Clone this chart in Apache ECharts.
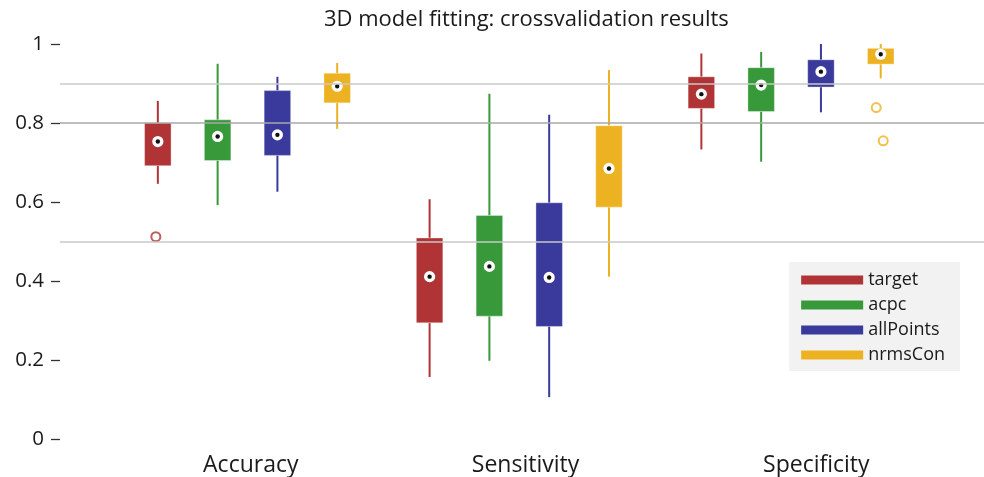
<!DOCTYPE html>
<html>
<head>
<meta charset="utf-8">
<script src="https://cdn.jsdelivr.net/npm/echarts@6/dist/echarts.min.js"></script>
<style>
  html, body { margin: 0; padding: 0; background: #ffffff; }
  #chart { width: 984px; height: 477px; }
</style>
</head>
<body>
<div id="chart"></div>
<script>
// Metric groups shown along the x axis
const categories = ['Accuracy', 'Sensitivity', 'Specificity'];
// Fitting methods, one box per method in every group
const methods = ['target', 'acpc', 'allPoints', 'nrmsCon'];
const methodColors = ['#b03435', '#37993a', '#3a3a9c', '#edb222'];

// Box statistics per group: [lower whisker, Q1, median, Q3, upper whisker]
const target    = [[0.646, 0.692, 0.753, 0.800, 0.856],
                   [0.157, 0.294, 0.411, 0.509, 0.607],
                   [0.733, 0.837, 0.873, 0.917, 0.976]];
const acpc      = [[0.592, 0.705, 0.766, 0.808, 0.950],
                   [0.198, 0.311, 0.437, 0.566, 0.874],
                   [0.702, 0.829, 0.896, 0.940, 0.980]];
const allPoints = [[0.626, 0.718, 0.770, 0.882, 0.917],
                   [0.106, 0.285, 0.409, 0.598, 0.821],
                   [0.827, 0.891, 0.930, 0.960, 1.000]];
const nrmsCon   = [[0.785, 0.851, 0.893, 0.926, 0.952],
                   [0.411, 0.587, 0.685, 0.793, 0.934],
                   [0.913, 0.949, 0.974, 0.989, 1.000]];

// Outliers per method: [group index, value]
const targetOutliers    = [[0, 0.512]];
const acpcOutliers      = [];
const allPointsOutliers = [];
const nrmsConOutliers   = [[2, 0.839], [2, 0.755]];

// Y axis tick values and reference lines
const yTicks = [0, 0.2, 0.4, 0.6, 0.8, 1];
const refLines = [0.9, 0.8, 0.5];

const boxStats = [target, acpc, allPoints, nrmsCon];
const outlierSets = [targetOutliers, acpcOutliers, allPointsOutliers, nrmsConOutliers];

// Layout: groups one unit apart, boxes spread inside a group
const boxStep = 0.22;
const boxHalfWidth = 13.25;
const outlierJitterPx = [[-2], [], [], [-4.5, 2.5]];
const labelPos = [0.342, 1.353, 2.423];

function xPos(g, s) { return g + s * boxStep; }

function renderBox(params, api) {
  const x = api.value(0);
  const pLo = api.coord([x, api.value(1)]);
  const pQ1 = api.coord([x, api.value(2)]);
  const pMed = api.coord([x, api.value(3)]);
  const pQ3 = api.coord([x, api.value(4)]);
  const pHi = api.coord([x, api.value(5)]);
  const cx = pMed[0];
  const color = api.visual('color');
  return {
    type: 'group',
    children: [
      { type: 'line', shape: { x1: cx, y1: pHi[1], x2: cx, y2: pQ3[1] },
        style: { stroke: color, lineWidth: 2 } },
      { type: 'line', shape: { x1: cx, y1: pQ1[1], x2: cx, y2: pLo[1] },
        style: { stroke: color, lineWidth: 2 } },
      { type: 'rect', shape: { x: cx - boxHalfWidth, y: pQ3[1], width: boxHalfWidth * 2, height: pQ1[1] - pQ3[1] },
        style: { fill: color, stroke: 'rgba(255,255,255,0.35)', lineWidth: 1 } },
      { type: 'circle', shape: { cx: cx, cy: pMed[1], r: 5.6 }, style: { fill: '#ffffff' } },
      { type: 'circle', shape: { cx: cx, cy: pMed[1], r: 2.2 }, style: { fill: '#111111' } }
    ]
  };
}

const series = [];

// Reference lines behind the boxes
series.push({
  type: 'line',
  data: [],
  silent: true,
  z: 1,
  markLine: {
    silent: true,
    symbol: 'none',
    label: { show: false },
    data: refLines.map(v => ({
      yAxis: v,
      lineStyle: { color: v === 0.8 ? '#a9a9a9' : '#c8c8c8', width: 1.6, type: 'solid' }
    }))
  }
});

methods.forEach((name, s) => {
  series.push({
    name: name,
    type: 'custom',
    z: 3,
    itemStyle: { color: methodColors[s] },
    encode: { x: 0, y: [1, 2, 3, 4, 5] },
    renderItem: renderBox,
    data: boxStats[s].map((st, g) => [xPos(g, s)].concat(st))
  });
});

methods.forEach((name, s) => {
  series.push({
    name: name,
    type: 'scatter',
    z: 3,
    symbol: 'emptyCircle',
    symbolSize: 9,
    itemStyle: { color: methodColors[s], borderColor: methodColors[s], borderWidth: 1.3 },
    data: outlierSets[s].map((o, i) => ({
      value: [xPos(o[0], s), o[1]],
      symbolOffset: [(outlierJitterPx[s][i] || 0), 0]
    }))
  });
});

const chart = echarts.init(document.getElementById('chart'), null, { renderer: 'canvas' });
chart.setOption({
  backgroundColor: '#ffffff',
  animation: false,
  title: {
    text: '3D model fitting: crossvalidation results',
    left: 319,
    top: 4,
    textStyle: { fontFamily: 'Open Sans', fontWeight: 'normal', fontSize: 22, color: '#1a1a1a' }
  },
  legend: {
    orient: 'vertical',
    right: 24,
    top: 262,
    backgroundColor: '#f2f2f2',
    padding: [9, 15, 7, 12],
    itemWidth: 62,
    itemHeight: 9,
    itemGap: 7,
    data: methods.map(m => ({ name: m, icon: 'rect' })),
    textStyle: { fontFamily: 'Open Sans', fontSize: 18, lineHeight: 18, color: '#1a1a1a' }
  },
  grid: { left: 60, right: 0, top: 44, bottom: 36 },
  xAxis: {
    type: 'value',
    min: -0.36,
    max: 3.04,
    axisLine: { show: false },
    axisTick: { show: false },
    splitLine: { show: false },
    axisLabel: {
      customValues: labelPos,
      margin: 15,
      fontFamily: 'Open Sans',
      fontSize: 23,
      color: '#1a1a1a',
      formatter: function (v) {
        let best = 0;
        labelPos.forEach((p, i) => { if (Math.abs(p - v) < Math.abs(labelPos[best] - v)) best = i; });
        return categories[best];
      }
    }
  },
  yAxis: {
    type: 'value',
    min: 0,
    max: 1,
    interval: 0.2,
    axisLine: { show: false, onZero: false },
    axisTick: { show: true, inside: false, length: 9, lineStyle: { color: '#333333', width: 1.3 } },
    splitLine: { show: false },
    axisLabel: {
      margin: 16,
      fontFamily: 'Open Sans',
      fontSize: 20.5,
      color: '#1a1a1a',
      formatter: v => String(yTicks.find(t => Math.abs(t - v) < 1e-9) ?? v)
    }
  },
  series: series
});
</script>
</body>
</html>
